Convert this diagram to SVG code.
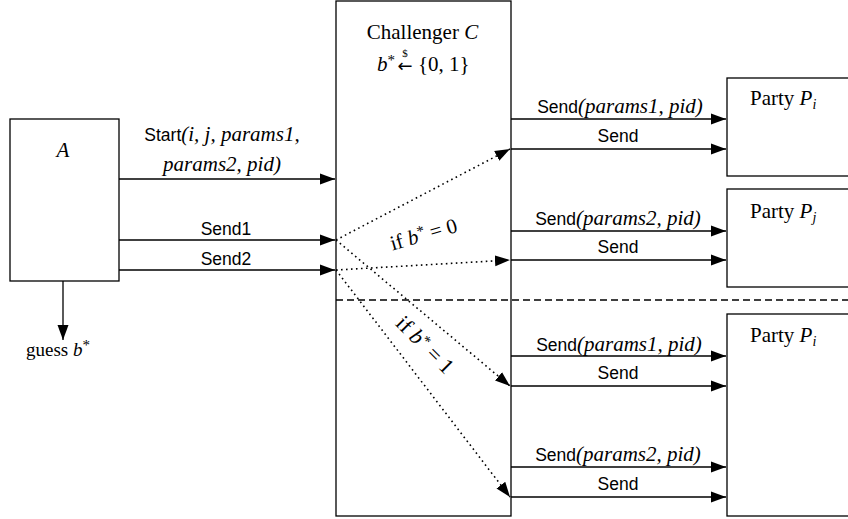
<svg xmlns="http://www.w3.org/2000/svg" width="848" height="519" viewBox="0 0 848 519">
<style>
.box{fill:#fff;stroke:#000;stroke-width:1.3}
.ln{stroke:#000;stroke-width:1.3;fill:none}
.dot{stroke-dasharray:1.6 3.4;stroke-width:1.6}
.dash{stroke-dasharray:7 4}
.sf{font-family:"Liberation Sans",Arial,sans-serif;font-size:17.5px;fill:#000}
.rm{font-family:"Liberation Serif","DejaVu Serif",serif;font-size:21px;fill:#000}
.it{font-style:italic}
.sup{font-size:15px}
.sub{font-size:14px}
</style>
<defs>
<marker id="ah" markerWidth="16" markerHeight="12" refX="15" refY="6" orient="auto" markerUnits="userSpaceOnUse">
<path d="M0,0.5 L15,6 L0,11.5 z" fill="#000"/>
</marker>
</defs>
<rect width="848" height="519" fill="#fff"/>

<g id="adversary">
<rect class="box" x="10" y="119" width="109" height="162"/>
<text class="rm it" x="63" y="157" text-anchor="middle">A</text>
</g>

<g id="challenger">
<rect class="box" x="336" y="1" width="175" height="515"/>
<text class="rm" x="422.5" y="39" text-anchor="middle">Challenger <tspan class="it">C</tspan></text>
<text class="rm" x="377" y="71"><tspan class="it">b</tspan><tspan class="sup" dy="-6">*</tspan></text>
<text x="405" y="72" text-anchor="middle" style="font-family:'DejaVu Sans',sans-serif;font-size:18px">←</text>
<text class="rm" x="405" y="57" text-anchor="middle" style="font-size:11px">$</text>
<text class="rm" x="418" y="71">{0, 1}</text>
</g>

<g id="partyPi">
<rect class="box" x="727" y="78" width="140" height="98"/>
<text class="rm" x="750" y="105">Party <tspan class="it">P</tspan><tspan class="it sub" dy="4">i</tspan></text>
</g>

<g id="partyPj">
<rect class="box" x="727" y="189" width="140" height="98"/>
<text class="rm" x="750" y="218">Party <tspan class="it">P</tspan><tspan class="it sub" dy="4">j</tspan></text>
</g>

<g id="partyPi2">
<rect class="box" x="727" y="314" width="140" height="202"/>
<text class="rm" x="750" y="342">Party <tspan class="it">P</tspan><tspan class="it sub" dy="4">i</tspan></text>
</g>

<g id="guess">
<text class="rm" x="26" y="356" style="font-size:19px">guess <tspan class="it">b</tspan><tspan class="sup" dy="-6">*</tspan></text>
</g>

<g id="connectors">
<line class="ln" x1="63" y1="281" x2="63" y2="340" marker-end="url(#ah)"/>
<line class="ln" x1="119" y1="179" x2="335" y2="179" marker-end="url(#ah)"/>
<line class="ln" x1="119" y1="240" x2="335" y2="240" marker-end="url(#ah)"/>
<line class="ln" x1="119" y1="270" x2="335" y2="270" marker-end="url(#ah)"/>

<line class="ln" x1="511" y1="119" x2="726" y2="119" marker-end="url(#ah)"/>
<line class="ln" x1="511" y1="149" x2="726" y2="149" marker-end="url(#ah)"/>
<line class="ln" x1="511" y1="231" x2="726" y2="231" marker-end="url(#ah)"/>
<line class="ln" x1="511" y1="260" x2="726" y2="260" marker-end="url(#ah)"/>
<line class="ln" x1="511" y1="356" x2="726" y2="356" marker-end="url(#ah)"/>
<line class="ln" x1="511" y1="386" x2="726" y2="386" marker-end="url(#ah)"/>
<line class="ln" x1="511" y1="467" x2="726" y2="467" marker-end="url(#ah)"/>
<line class="ln" x1="511" y1="497" x2="726" y2="497" marker-end="url(#ah)"/>

<line class="ln dash" x1="336" y1="300" x2="848" y2="300"/>

<line class="ln dot" x1="336" y1="240" x2="510" y2="149" marker-end="url(#ah)"/>
<line class="ln dot" x1="336" y1="270" x2="510" y2="260" marker-end="url(#ah)"/>
<line class="ln dot" x1="336" y1="240" x2="510" y2="386" marker-end="url(#ah)"/>
<line class="ln dot" x1="336" y1="270" x2="510" y2="497" marker-end="url(#ah)"/>

<text class="sf" x="222" y="141" text-anchor="middle">Start<tspan class="rm it">(i, j, params1,</tspan></text>
<text class="rm it" x="222" y="171" text-anchor="middle">params2, pid)</text>
<text class="sf" x="226" y="235" text-anchor="middle">Send1</text>
<text class="sf" x="226" y="265" text-anchor="middle">Send2</text>

<text class="sf" x="620" y="113" text-anchor="middle">Send<tspan class="rm it">(params1, pid)</tspan></text>
<text class="sf" x="618" y="142" text-anchor="middle">Send</text>
<text class="sf" x="618" y="225" text-anchor="middle">Send<tspan class="rm it">(params2, pid)</tspan></text>
<text class="sf" x="618" y="253" text-anchor="middle">Send</text>
<text class="sf" x="619" y="351" text-anchor="middle">Send<tspan class="rm it">(params1, pid)</tspan></text>
<text class="sf" x="618" y="379" text-anchor="middle">Send</text>
<text class="sf" x="618" y="461" text-anchor="middle">Send<tspan class="rm it">(params2, pid)</tspan></text>
<text class="sf" x="618" y="490" text-anchor="middle">Send</text>

<text class="rm" transform="translate(425.5,241) rotate(-16)" text-anchor="middle">if <tspan class="it">b</tspan><tspan class="sup" dy="-6">*</tspan><tspan dy="6"> = 0</tspan></text>
<text class="rm" transform="translate(420,350) rotate(45)" text-anchor="middle" style="font-size:22px">if <tspan class="it">b</tspan><tspan class="sup" dy="-6">*</tspan><tspan dy="6"> = 1</tspan></text>
</g>
</svg>
